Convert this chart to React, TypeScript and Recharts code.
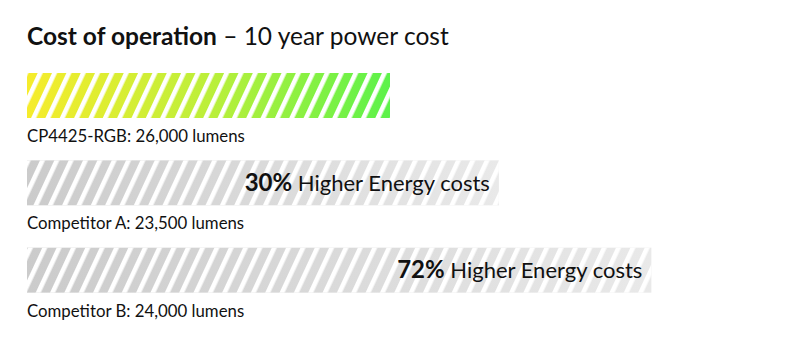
import { BarChart, Bar, XAxis, YAxis, LabelList } from 'recharts'

const names = ['CP4425-RGB: 26,000 lumens', 'Competitor A: 23,500 lumens', 'Competitor B: 24,000 lumens']
const costIndex = [100, 130, 172]
const extraPct = ['', '30%', '72%']

const data = names.map((name, i) => ({ name, cost: costIndex[i], pct: extraPct[i], idx: i }))

const FONT = 'Lato, "Open Sans", sans-serif'

function StripedBar(props: any) {
  const { x, y, width, height, idx } = props
  const grad = idx === 0 ? 'url(#gGreen)' : 'url(#gGray)'
  return (
    <g>
      <rect x={x} y={y} width={width} height={height} fill={grad} />
      <rect x={x} y={y} width={width} height={height} fill="url(#gaps)" />
    </g>
  )
}

function NameLabel(props: any) {
  const { x, y, height, value } = props
  return (
    <text x={x} y={y + height + 24} fontSize={16.8} fill="#111" fontFamily={FONT}>
      {value}
    </text>
  )
}

function PctLabel(props: any) {
  const { x, y, width, height, value } = props
  if (!value) return null
  return (
    <text x={x + width - 9} y={y + height / 2 + 8} textAnchor="end" fill="#111" fontFamily={FONT}>
      <tspan fontWeight={700} fontSize={24}>{value}</tspan>
      <tspan fontSize={22}> Higher Energy costs</tspan>
    </text>
  )
}

export default function App() {
  return (
    <div style={{ position: 'fixed', left: 0, top: 0, width: 800, height: 350, background: '#fff' }}>
      <div style={{ position: 'absolute', left: 27, top: 21, fontFamily: FONT, fontSize: 24.5, color: '#111', whiteSpace: 'nowrap' }}>
        <b>Cost of operation</b> – 10 year power cost
      </div>
      <BarChart
        width={800}
        height={350}
        data={data}
        layout="vertical"
        margin={{ top: 52, right: 47, bottom: 36, left: 27 }}
      >
        <defs>
          <linearGradient id="gGreen" x1="0" y1="0" x2="1" y2="0">
            <stop offset="0%" stopColor="#f6ec2c" />
            <stop offset="50%" stopColor="#bcef3a" />
            <stop offset="100%" stopColor="#5cf24a" />
          </linearGradient>
          <linearGradient id="gGray" x1="0" y1="0" x2="1" y2="0">
            <stop offset="0%" stopColor="#cbcbcb" />
            <stop offset="100%" stopColor="#e9e9e9" />
          </linearGradient>
          <pattern id="gaps" patternUnits="userSpaceOnUse" width={13} height={10} patternTransform="rotate(25)">
            <rect x={0} y={0} width={4.6} height={10} fill="#fff" />
          </pattern>
        </defs>
        <XAxis type="number" domain={[0, 200]} hide />
        <YAxis type="category" dataKey="name" hide />
        <Bar dataKey="cost" barSize={45} shape={<StripedBar />} isAnimationActive={false}>
          <LabelList dataKey="name" content={<NameLabel />} />
          <LabelList dataKey="pct" content={<PctLabel />} />
        </Bar>
      </BarChart>
    </div>
  )
}
